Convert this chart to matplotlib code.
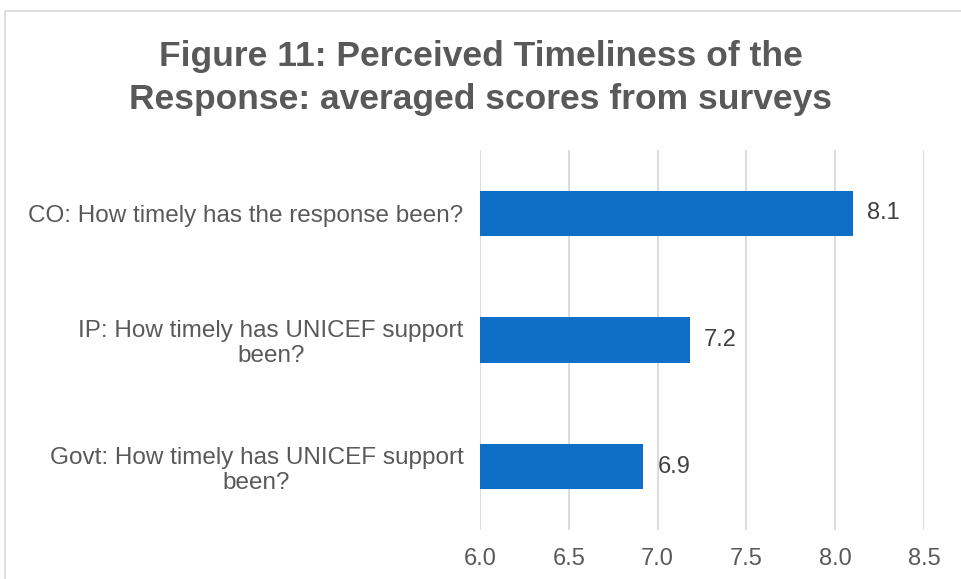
import matplotlib
matplotlib.use("Agg")
import matplotlib.pyplot as plt
from matplotlib.patches import Rectangle

categories = ["CO: How timely has the response been?",
              "IP: How timely has UNICEF support\nbeen?",
              "Govt: How timely has UNICEF support\nbeen?"]
values = [8.1, 7.18, 6.92]
xticks = [6.0, 6.5, 7.0, 7.5, 8.0, 8.5]
title = "Figure 11: Perceived Timeliness of the\nResponse: averaged scores from surveys"

plt.rcParams['font.family'] = ['Liberation Sans', 'DejaVu Sans']

fig = plt.figure(figsize=(9.62, 5.79), dpi=100)
W, H = 962, 579
ax = fig.add_axes([480 / W, 1 - 530 / H, (924 - 480) / W, (530 - 150) / H])

# figure border
fig.patches.append(Rectangle((5 / W, -0.1), 1.2, 1 - 11 / H + 0.1, transform=fig.transFigure,
                             fill=False, edgecolor='#d9d9d9', linewidth=1.2))

ypos = list(range(len(categories)))
ax.barh(ypos, [v - 6.0 for v in values], left=6.0, height=0.357, color='#0F6FC6')
for y, v in zip(ypos, values):
    ax.text(v + 0.08, y, f"{v:.1f}", va='center', ha='left', fontsize=17, color='#404040')

ax.set_xlim(6.0, 8.5)
ax.set_ylim(2.5, -0.5)
ax.set_xticks(xticks)
ax.set_xticklabels([f"{t:.1f}" for t in xticks], fontsize=17, color='#595959')
ax.set_yticks(ypos)
ax.set_yticklabels(categories, fontsize=17.5, color='#595959', ha='right',
                   multialignment='center', linespacing=1.15)
ax.tick_params(axis='both', length=0)
ax.tick_params(axis='y', pad=12)
ax.tick_params(axis='x', pad=13)
ax.grid(axis='x', color='#d9d9d9', linewidth=1.3)
ax.set_axisbelow(True)
for s in ax.spines.values():
    s.set_visible(False)

fig.text(0.5, 1 - 78 / H, title, ha='center', va='center', fontsize=25.5, fontweight='bold',
         color='#595959', linespacing=1.42)

fig.savefig("out.png", dpi=100)
